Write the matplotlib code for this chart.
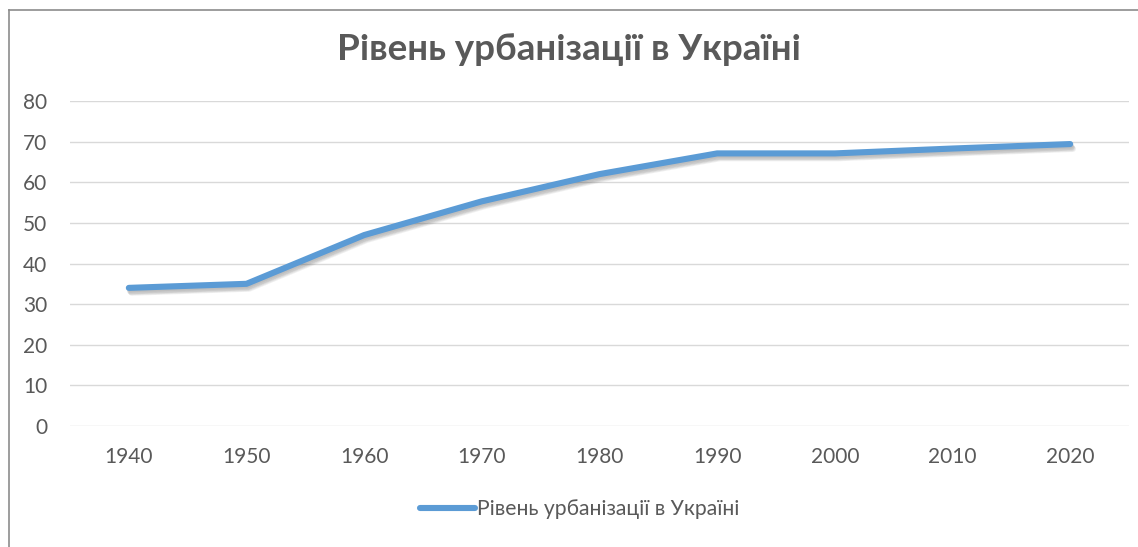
import matplotlib
matplotlib.use('Agg')

import matplotlib.pyplot as plt
import matplotlib.patheffects as pe
from matplotlib.lines import Line2D

years = ['1940', '1950', '1960', '1970', '1980', '1990', '2000', '2010', '2020']
urban = [34, 35, 47, 55.3, 62, 67.1, 67.1, 68.3, 69.4]
y_ticks = [0, 10, 20, 30, 40, 50, 60, 70, 80]
title = 'Рівень урбанізації в Україні'

plt.rcParams['font.family'] = ['Lato', 'DejaVu Sans']

fig = plt.figure(figsize=(11.38, 5.47), dpi=100)
ax = fig.add_axes([70 / 1138, 1 - 426 / 547, (1129 - 70) / 1138, 325 / 547])

# soft shadow: a few stacked faint offsets
shadow = [pe.SimpleLineShadow(offset=(dx, dy), alpha=0.07, shadow_color='#303030')
          for dx, dy in [(0.5, -1), (1, -2), (1.5, -3), (1, -2.5), (2, -3.5)]]

x = list(range(len(years)))
ax.plot(x, urban, color='#5B9BD5', linewidth=4.4, solid_capstyle='round',
        solid_joinstyle='round', path_effects=shadow + [pe.Normal()])

ax.set_xlim(-0.5, len(years) - 0.5)
ax.set_ylim(0, 80)
ax.set_yticks(y_ticks)
ax.set_xticks(x)
ax.set_xticklabels(years)
ax.grid(axis='y', color='#D9D9D9', linewidth=1.0)
ax.set_axisbelow(True)
for s in ax.spines.values():
    s.set_visible(False)
ax.tick_params(length=0, labelsize=15, colors='#595959')
ax.tick_params(axis='x', pad=15)
ax.tick_params(axis='y', pad=16.5)

fig.text(569 / 1138, 1 - 50 / 547, title, ha='center', va='center',
         fontsize=26.5, fontweight='bold', color='#595959')

handle = Line2D([], [], color='#5B9BD5', linewidth=4.4, solid_capstyle='round')
fig.legend([handle], [title], loc='center', bbox_to_anchor=(580 / 1138, 1 - 509 / 547),
           frameon=False, fontsize=15.2, labelcolor='#595959', handlelength=2.6,
           handletextpad=0.1)

# chart area border (top and left visible)
fig.add_artist(Line2D([8.5 / 1138, 8.5 / 1138], [0, 1 - 10 / 547], color='#8C8C8C', linewidth=1.2))
fig.add_artist(Line2D([8.5 / 1138, 1], [1 - 10 / 547, 1 - 10 / 547], color='#8C8C8C', linewidth=1.2))

fig.savefig('out.png', dpi=100)
